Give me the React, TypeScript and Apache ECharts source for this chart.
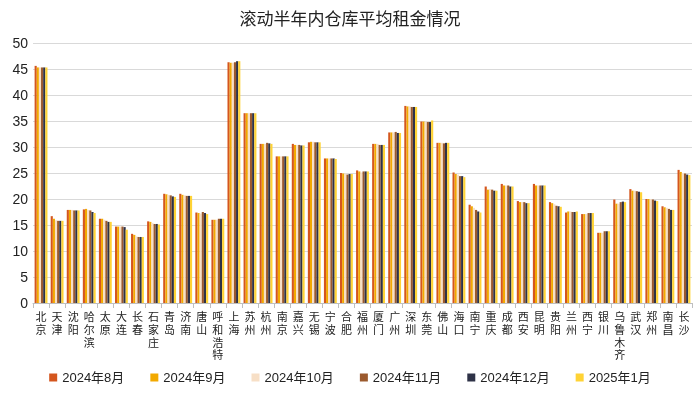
import React, { useEffect, useRef } from "react";
import * as echarts from "echarts";

const cities = ["北京","天津","沈阳","哈尔滨","太原","大连","长春","石家庄","青岛","济南","唐山","呼和浩特","上海","苏州","杭州","南京","嘉兴","无锡","宁波","合肥","福州","厦门","广州","深圳","东莞","佛山","海口","南宁","重庆","成都","西安","昆明","贵阳","兰州","西宁","银川","乌鲁木齐","武汉","郑州","南昌","长沙"];

const seriesNames = ["2024年8月","2024年9月","2024年10月","2024年11月","2024年12月","2025年1月"];

const aug2024 = [45.6,16.7,17.9,18.0,16.2,14.7,13.3,15.7,21.0,21.0,17.4,16.0,46.3,36.5,30.6,28.2,30.6,30.9,27.8,25.0,25.5,30.6,32.8,37.9,34.9,30.8,25.1,18.9,22.4,22.9,19.6,22.9,19.4,17.4,17.1,13.5,19.9,21.9,20.0,18.6,25.6];
const sep2024 = [45.3,16.2,17.9,18.1,16.2,14.7,13.1,15.6,20.9,20.8,17.3,16.0,46.2,36.5,30.6,28.2,30.4,31.0,27.8,24.9,25.3,30.6,32.8,37.8,34.9,30.8,24.8,18.6,21.8,22.6,19.4,22.6,19.2,17.6,17.1,13.5,19.1,21.6,20.0,18.4,25.2];
const oct2024 = [45.3,15.9,17.9,17.9,16.0,14.7,12.8,15.4,20.8,20.7,17.2,16.0,46.2,36.5,30.6,28.2,30.4,31.0,27.8,24.9,25.1,30.6,32.8,37.8,34.9,30.8,24.7,18.3,21.9,22.6,19.4,22.6,19.0,17.6,17.1,13.5,19.1,21.6,20.0,18.3,25.0];
const nov2024 = [45.3,15.8,17.8,17.8,15.8,14.7,12.7,15.2,20.7,20.6,17.5,16.2,46.3,36.5,30.8,28.2,30.4,30.9,27.8,24.7,25.3,30.4,32.9,37.7,34.8,30.7,24.4,17.9,21.8,22.6,19.4,22.6,18.7,17.5,17.3,13.8,19.4,21.5,19.9,18.1,24.9];
const dec2024 = [45.3,15.8,17.8,17.5,15.6,14.6,12.7,15.2,20.5,20.6,17.3,16.2,46.5,36.5,30.7,28.2,30.3,30.9,27.8,24.8,25.3,30.4,32.7,37.7,34.8,30.8,24.4,17.6,21.6,22.4,19.2,22.6,18.6,17.5,17.3,13.8,19.5,21.4,19.7,17.9,24.7];
const jan2025 = [45.3,15.8,17.8,17.3,15.6,14.1,12.7,15.1,20.4,20.6,17.1,16.2,46.5,36.5,30.6,28.2,30.3,30.9,27.7,24.8,25.3,30.4,32.7,37.7,35.1,30.8,24.2,17.4,21.6,22.4,19.2,22.6,18.5,17.6,17.3,13.8,19.4,21.3,19.6,17.9,24.6];

const seriesData = [aug2024, sep2024, oct2024, nov2024, dec2024, jan2025];
const colors = ["#D4561E", "#F2A900", "#F7DFC6", "#9B5A2E", "#2E3247", "#FFD335"];

export default function App() {
  const ref = useRef<HTMLDivElement>(null);
  useEffect(() => {
    if (!ref.current) return;
    const chart = echarts.init(ref.current, null, { renderer: "svg" });
    chart.setOption({
      animation: false,
      color: colors,
      title: {
        text: "滚动半年内仓库平均租金情况",
        left: "center",
        top: 4,
        textStyle: { fontSize: 17, fontWeight: "normal", color: "#222", fontFamily: "Noto Sans CJK SC" },
      },
      legend: {
        bottom: 5,
        left: "center",
        itemWidth: 8,
        itemHeight: 8,
        itemGap: 26,
        icon: "rect",
        textStyle: { fontSize: 13, color: "#222", fontFamily: "Liberation Sans, Noto Sans CJK SC" },
        data: seriesNames,
      },
      grid: { left: 33, right: 8, top: 43, bottom: 91, containLabel: false },
      xAxis: {
        type: "category",
        data: cities,
        axisLine: { lineStyle: { color: "#bfbfbf" } },
        axisTick: { show: true, lineStyle: { color: "#bfbfbf" } },
        axisLabel: {
          interval: 0,
          fontSize: 11,
          color: "#222",
          margin: 8,
          lineHeight: 12.6,
          fontFamily: "Liberation Sans, Noto Sans CJK SC",
          formatter: (v: string) => v.split("").join("\n"),
        },
      },
      yAxis: {
        type: "value",
        min: 0,
        max: 50,
        interval: 5,
        axisLine: { show: false },
        axisTick: { show: false },
        splitLine: { lineStyle: { color: "#d9d9d9" } },
        axisLabel: { fontSize: 14, color: "#222", margin: 5, fontFamily: "Liberation Sans" },
      },
      series: seriesNames.map((name, i) => ({
        name,
        type: "bar",
        data: seriesData[i],
        barGap: "0%",
        barCategoryGap: "20%",
      })),
    });
    return () => chart.dispose();
  }, []);
  return <div ref={ref} style={{ position: "fixed", left: 0, top: 0, width: 700, height: 394 }} />;
}
